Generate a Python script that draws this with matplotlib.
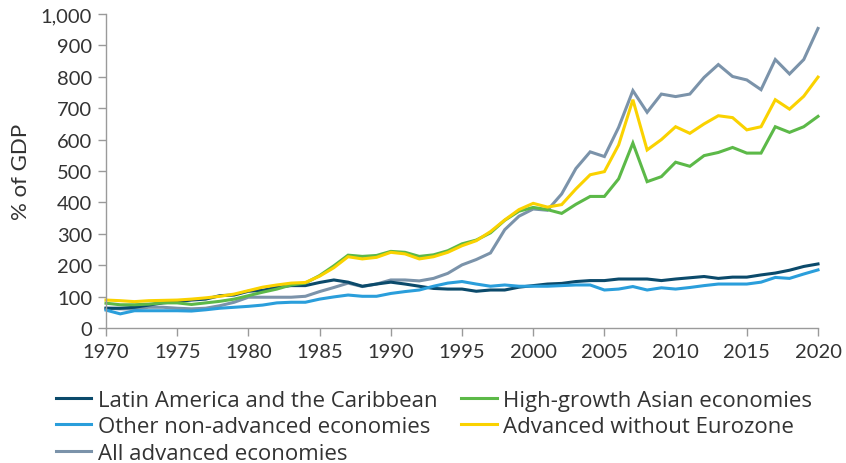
import matplotlib
matplotlib.use("Agg")
import matplotlib.pyplot as plt
import numpy as np

years = np.arange(1970, 2021)

latin_america = [
    63, 63, 66, 73, 80, 84, 89, 92, 103, 105,
    117, 120, 130, 135, 135, 145, 153, 146, 133, 140,
    146, 140, 133, 126, 124, 124, 117, 121, 121, 130,
    135, 140, 142, 148, 151, 151, 156, 156, 156, 151,
    156, 160, 164, 158, 162, 162, 169, 175, 184, 196,
    204,
]
high_growth_asia = [
    79, 74, 74, 76, 80, 80, 75, 80, 85, 92,
    103, 114, 124, 137, 143, 167, 198, 232, 228, 231,
    244, 241, 228, 233, 246, 268, 280, 303, 343, 372,
    384, 377, 365, 394, 419, 419, 475, 589, 466, 482,
    528, 515, 549, 559, 575, 557, 557, 641, 623, 641,
    674,
]
other_non_advanced = [
    57, 45, 55, 55, 55, 55, 54, 58, 63, 66,
    69, 73, 80, 82, 82, 92, 99, 105, 101, 101,
    110, 116, 121, 133, 143, 148, 140, 133, 137, 133,
    133, 133, 135, 137, 137, 121, 124, 132, 121, 128,
    124, 129, 135, 140, 140, 140, 146, 161, 158, 172,
    185,
]
advanced_ex_euro = [
    89, 87, 84, 87, 88, 89, 92, 96, 101, 108,
    119, 130, 137, 143, 145, 165, 192, 227, 220, 225,
    241, 236, 220, 227, 241, 262, 278, 307, 344, 377,
    397, 385, 393, 443, 488, 498, 583, 727, 567, 600,
    641, 620, 650, 676, 670, 631, 641, 727, 697, 738,
    799,
]
all_advanced = [
    63, 61, 61, 66, 66, 63, 61, 63, 71, 82,
    98, 98, 98, 98, 101, 116, 129, 143, 132, 140,
    153, 153, 150, 158, 174, 201, 218, 239, 313, 356,
    379, 375, 427, 508, 561, 546, 639, 756, 687, 745,
    737, 745, 798, 839, 801, 790, 759, 855, 809, 855,
    954,
]

series = [
    ("Latin America and the Caribbean", latin_america, "#0b4a6b"),
    ("Other non-advanced economies", other_non_advanced, "#2a9edb"),
    ("All advanced economies", all_advanced, "#7b93aa"),
    ("High-growth Asian economies", high_growth_asia, "#5cb948"),
    ("Advanced without Eurozone", advanced_ex_euro, "#fad200"),
]
draw_order = [2, 0, 1, 3, 4]

plt.rcParams["font.family"] = ["Lato", "DejaVu Sans"]

fig = plt.figure(figsize=(8.46, 4.64), dpi=100)
ax = fig.add_axes([106 / 846, 1 - 329 / 464, 712 / 846, 314 / 464])

lines = {}
for i in draw_order:
    name, vals, color = series[i]
    (ln,) = ax.plot(years, vals, color=color, lw=2.2, label=name, clip_on=False,
                    solid_joinstyle="miter")
    lines[i] = ln

ax.set_xlim(1970, 2020)
ax.set_ylim(0, 1000)
ax.set_xticks(range(1970, 2021, 5))
ax.set_yticks(range(0, 1001, 100))
ax.set_yticklabels([f"{v:,}" for v in range(0, 1001, 100)])

for side in ("top", "right"):
    ax.spines[side].set_visible(False)
for side in ("left", "bottom"):
    ax.spines[side].set_color("#9a9a9a")
    ax.spines[side].set_linewidth(1.0)
ax.tick_params(axis="both", colors="#9a9a9a", labelcolor="#333333",
               labelsize=14.5, length=6, width=1.0)
ax.tick_params(axis="x", pad=5)
ax.tick_params(axis="y", pad=4)
ax.set_ylabel("% of GDP", fontsize=16, color="#333333", labelpad=7)

handles = [lines[i] for i in range(5)]
labels = [series[i][0] for i in range(5)]
fig.legend(handles, labels, ncol=2, loc="upper left",
           bbox_to_anchor=(47 / 846, 1 - 382 / 464), frameon=False,
           prop={"family": "Open Sans", "size": 16},
           handlelength=1.6, handletextpad=0.3,
           columnspacing=1.05, labelspacing=0.24, borderaxespad=0,
           labelcolor="#333333")

fig.savefig("out.png", dpi=100)
